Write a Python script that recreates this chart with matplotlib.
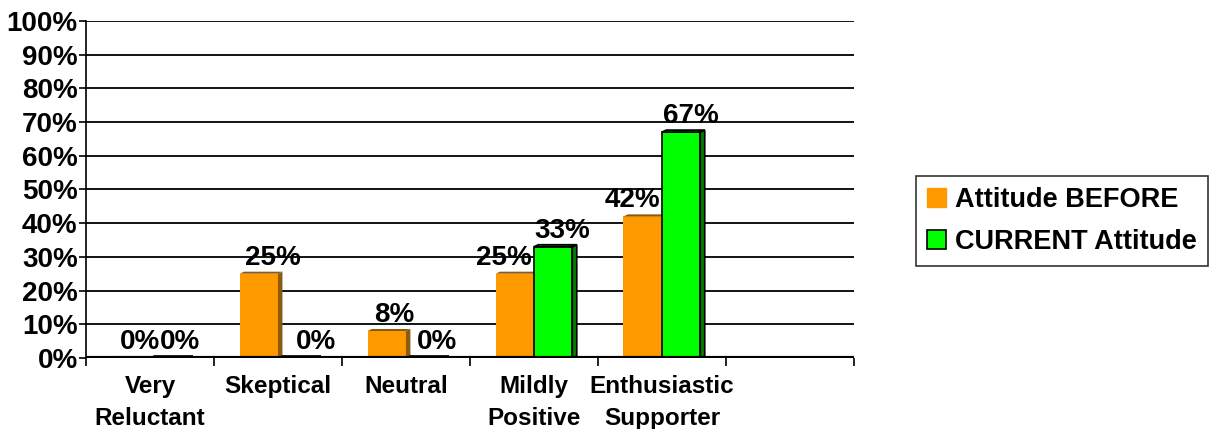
import matplotlib
matplotlib.use('Agg')
import matplotlib.pyplot as plt
from matplotlib.patches import Patch, Polygon
import numpy as np

plt.rcParams['font.family'] = ['Liberation Sans', 'DejaVu Sans']
plt.rcParams['font.weight'] = 'bold'

categories = ['Very\nReluctant', 'Skeptical', 'Neutral', 'Mildly\nPositive',
              'Enthusiastic\nSupporter', '']
before = [0, 25, 8, 25, 42]
current = [0, 0, 0, 33, 67]
series_names = ['Attitude BEFORE', 'CURRENT Attitude']
yticks = list(range(0, 101, 10))

orange = '#FF9900'
orange_side = '#8C5A10'
green = '#00FF00'
green_side = '#008000'

fig = plt.figure(figsize=(12.13, 4.29), dpi=100)
ax = fig.add_axes([0.0709, 0.1655, 0.633, 0.786])

w = 0.3
depth = 0.035
dy = 0.6
x = np.arange(len(before)) + 0.5

def draw_bars(xs, vals, face, side, edge):
    lw = 1.2 if edge else 0
    ec = 'black' if edge else face
    ax.bar(xs, vals, width=w, color=face, edgecolor=ec, linewidth=lw, zorder=3)
    for xc, v in zip(xs, vals):
        xr = xc + w / 2
        xl = xc - w / 2
        sidep = Polygon([(xr, 0), (xr + depth, dy), (xr + depth, v + dy), (xr, v)],
                        closed=True, facecolor=side, edgecolor=ec, linewidth=lw, zorder=3)
        topp = Polygon([(xl, v), (xr, v), (xr + depth, v + dy), (xl + depth, v + dy)],
                       closed=True, facecolor=side, edgecolor=ec, linewidth=lw, zorder=3)
        ax.add_patch(sidep)
        ax.add_patch(topp)

draw_bars(x - w / 2, before, orange, orange_side, False)
draw_bars(x + w / 2, current, green, green_side, True)

# value labels (small pixel nudges like the original layout)
dx_before = [9, 14, 8, -11, -10]
dx_current = [11, 19, 12, 9, 10]
for xc, v, dxp in zip(x - w / 2, before, dx_before):
    ax.annotate('%d%%' % v, (xc, v), xytext=(dxp, 3), textcoords='offset pixels',
                ha='center', va='bottom', fontsize=20, fontweight='bold', zorder=5)
for xc, v, dxp in zip(x + w / 2, current, dx_current):
    ax.annotate('%d%%' % v, (xc, v), xytext=(dxp, 3), textcoords='offset pixels',
                ha='center', va='bottom', fontsize=20, fontweight='bold', zorder=5)

ax.set_xlim(0, len(categories))
ax.set_ylim(0, 100)
ax.set_yticks(yticks)
ax.set_yticklabels(['%d%%' % t for t in yticks], fontsize=20, fontweight='bold')
ax.yaxis.grid(True, color='black', linewidth=1.3, zorder=0)
ax.set_axisbelow(True)

ax.set_xticks(np.arange(len(categories) + 1))
ax.set_xticklabels([])
ax.set_xticks(np.arange(len(categories)) + 0.5, minor=True)
ax.set_xticklabels(categories, minor=True, fontsize=17.5, fontweight='bold',
                   linespacing=1.5)
ax.tick_params(axis='x', which='minor', length=0, pad=12)
ax.tick_params(axis='x', which='major', length=6, width=1.2, direction='out')
ax.tick_params(axis='y', length=5, width=1.2, direction='out', pad=1)

for s in ['top', 'right', 'bottom']:
    ax.spines[s].set_visible(False)
ax.spines['left'].set_linewidth(1.2)
ax.axhline(0, color='black', linewidth=3, zorder=4)

handles = [Patch(facecolor=orange, edgecolor=orange),
           Patch(facecolor=green, edgecolor='black', linewidth=1.2)]
leg = fig.legend(handles, series_names, loc='center', bbox_to_anchor=(0.8756, 0.4848),
                 prop={'weight': 'bold', 'size': 19.5},
                 frameon=True, fancybox=False, edgecolor='black',
                 handlelength=0.7, handleheight=0.7, handletextpad=0.35,
                 labelspacing=0.6, borderpad=0.4, borderaxespad=0)
leg.get_frame().set_linewidth(1.2)

fig.savefig('out.png', dpi=100)
